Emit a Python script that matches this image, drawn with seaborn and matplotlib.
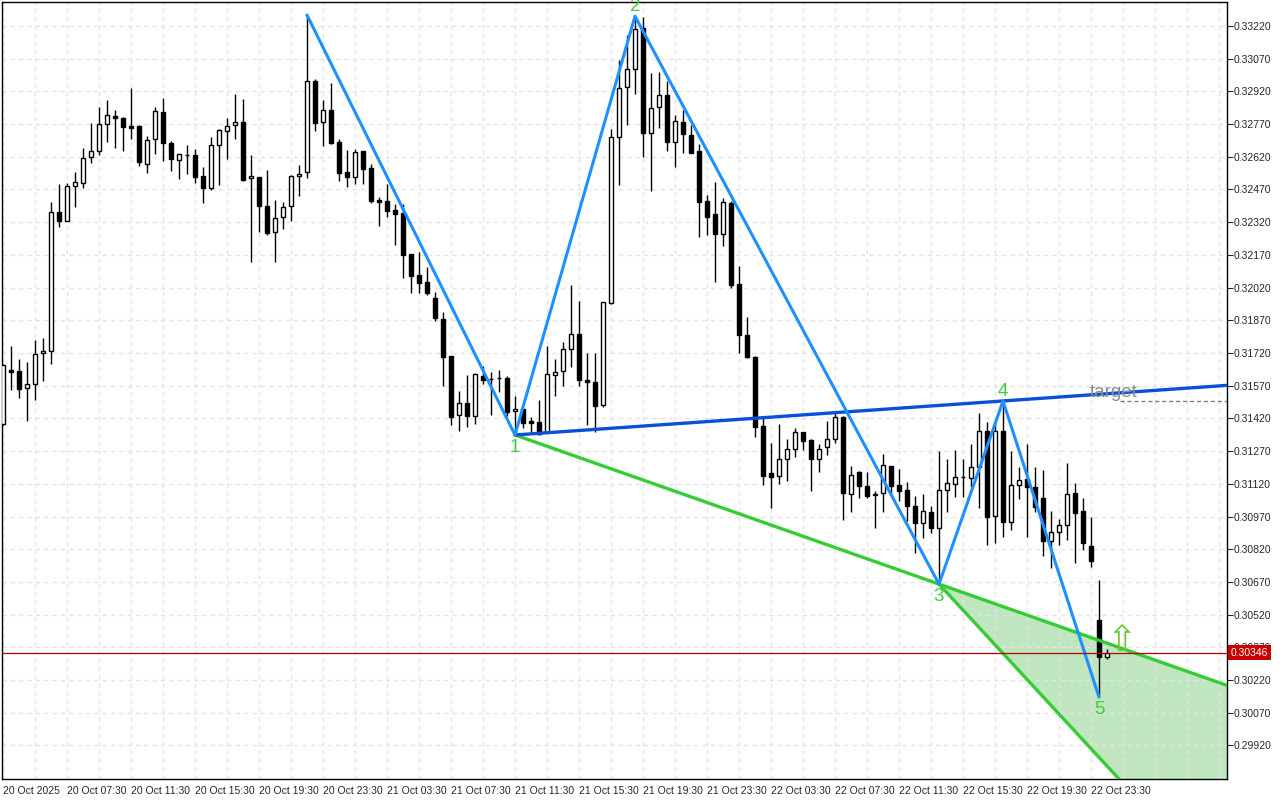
import matplotlib
matplotlib.use("Agg")
import matplotlib.pyplot as plt
import matplotlib.transforms as mtransforms
import seaborn as sns
import numpy as np

# 30-minute candles, 20 Oct 03:30 -> 23 Oct 00:30
opens = [0.31394, 0.31642, 0.31637, 0.31559, 0.31578, 0.31720, 0.31729, 0.32367, 0.32325, 0.32486,
         0.32500, 0.32619, 0.32646, 0.32770, 0.32807, 0.32798, 0.32761, 0.32761, 0.32587, 0.32701,
         0.32825, 0.32683, 0.32605, 0.32628, 0.32628, 0.32532, 0.32477, 0.32674, 0.32738, 0.32766,
         0.32779, 0.32522, 0.32527, 0.32394, 0.32275, 0.32344, 0.32394, 0.32532, 0.32550, 0.32967,
         0.32779, 0.32834, 0.32688, 0.32550, 0.32527, 0.32646, 0.32568, 0.32422, 0.32417, 0.32376,
         0.32362, 0.32174, 0.32078, 0.32045, 0.31972, 0.31876, 0.31706, 0.31435, 0.31490, 0.31431,
         0.31614, 0.31600, 0.31605, 0.31605, 0.31454, 0.31463, 0.31408, 0.31404, 0.31357, 0.31619,
         0.31637, 0.31738, 0.31807, 0.31596, 0.31587, 0.31481, 0.31949, 0.32711, 0.32940, 0.33023,
         0.33211, 0.32729, 0.32848, 0.32903, 0.32688, 0.32779, 0.32720, 0.32646, 0.32417, 0.32357,
         0.32266, 0.32408, 0.32036, 0.31802, 0.31701, 0.31385, 0.31169, 0.31156, 0.31234, 0.31279,
         0.31357, 0.31321, 0.31234, 0.31289, 0.31325, 0.31426, 0.31073, 0.31174, 0.31109, 0.31073,
         0.31078, 0.31201, 0.31114, 0.31091, 0.31018, 0.30940, 0.30990, 0.30917, 0.31091, 0.31119,
         0.31151, 0.31146, 0.31197, 0.31362, 0.30972, 0.31362, 0.30945, 0.31114, 0.31142, 0.31105,
         0.31055, 0.30857, 0.30899, 0.30931, 0.31078, 0.30995, 0.30834, 0.30495, 0.30325]
highs = [0.31670, 0.31752, 0.31692, 0.31679, 0.31779, 0.31789, 0.32412, 0.32495, 0.32500, 0.32550,
         0.32660, 0.32775, 0.32848, 0.32880, 0.32834, 0.32802, 0.32935, 0.32766, 0.32715, 0.32848,
         0.32890, 0.32692, 0.32633, 0.32674, 0.32656, 0.32573, 0.32711, 0.32747, 0.32798, 0.32908,
         0.32885, 0.32628, 0.32527, 0.32559, 0.32422, 0.32412, 0.32536, 0.32582, 0.33270, 0.32977,
         0.32880, 0.32958, 0.32701, 0.32651, 0.32656, 0.32646, 0.32587, 0.32435, 0.32495, 0.32403,
         0.32403, 0.32174, 0.32183, 0.32114, 0.32000, 0.31908, 0.31706, 0.31546, 0.31619, 0.31628,
         0.31660, 0.31633, 0.31642, 0.31614, 0.31523, 0.31463, 0.31426, 0.31504, 0.31752, 0.31692,
         0.31770, 0.32032, 0.31958, 0.31720, 0.31720, 0.31954, 0.32747, 0.33064, 0.33178, 0.33270,
         0.33261, 0.33004, 0.33009, 0.32967, 0.32812, 0.32834, 0.32766, 0.32678, 0.32444, 0.32504,
         0.32431, 0.32417, 0.32119, 0.31885, 0.31706, 0.31431, 0.31307, 0.31394, 0.31325, 0.31376,
         0.31357, 0.31325, 0.31302, 0.31408, 0.31449, 0.31431, 0.31201, 0.31179, 0.31174, 0.31087,
         0.31257, 0.31201, 0.31188, 0.31128, 0.31064, 0.31073, 0.31018, 0.31270, 0.31234, 0.31275,
         0.31234, 0.31302, 0.31445, 0.31403, 0.31403, 0.31500, 0.31270, 0.31197, 0.31302, 0.31197,
         0.31183, 0.30995, 0.30958, 0.31215, 0.31123, 0.31055, 0.30968, 0.30679, 0.30362]
lows = [0.31390, 0.31550, 0.31513, 0.31408, 0.31504, 0.31591, 0.31669, 0.32298, 0.32325, 0.32390,
        0.32477, 0.32591, 0.32628, 0.32688, 0.32660, 0.32646, 0.32701, 0.32578, 0.32545, 0.32633,
        0.32600, 0.32555, 0.32518, 0.32541, 0.32500, 0.32408, 0.32468, 0.32490, 0.32610, 0.32701,
        0.32509, 0.32137, 0.32275, 0.32261, 0.32137, 0.32289, 0.32325, 0.32440, 0.32522, 0.32738,
        0.32669, 0.32678, 0.32509, 0.32481, 0.32495, 0.32495, 0.32408, 0.32302, 0.32344, 0.32215,
        0.32064, 0.31995, 0.31995, 0.31986, 0.31867, 0.31568, 0.31390, 0.31362, 0.31381, 0.31394,
        0.31578, 0.31435, 0.31541, 0.31431, 0.31344, 0.31376, 0.31353, 0.31344, 0.31353, 0.31523,
        0.31568, 0.31656, 0.31568, 0.31390, 0.31357, 0.31472, 0.31945, 0.32490, 0.32766, 0.32908,
        0.32619, 0.32463, 0.32752, 0.32646, 0.32573, 0.32637, 0.32637, 0.32252, 0.32261, 0.32045,
        0.32211, 0.32018, 0.31720, 0.31697, 0.31335, 0.31114, 0.31009, 0.31119, 0.31133, 0.31243,
        0.31275, 0.31087, 0.31174, 0.31252, 0.31307, 0.30954, 0.30992, 0.31055, 0.31055, 0.30917,
        0.30990, 0.31068, 0.31041, 0.30949, 0.30802, 0.30871, 0.30894, 0.30660, 0.30992, 0.31059,
        0.31059, 0.31105, 0.31009, 0.30839, 0.30848, 0.30876, 0.30908, 0.31050, 0.30876, 0.30990,
        0.30789, 0.30734, 0.30839, 0.30862, 0.30757, 0.30816, 0.30738, 0.30142, 0.30316]
closes = [0.31665, 0.31633, 0.31555, 0.31578, 0.31715, 0.31729, 0.32367, 0.32325, 0.32486, 0.32504,
          0.32614, 0.32646, 0.32770, 0.32812, 0.32798, 0.32757, 0.32752, 0.32596, 0.32697, 0.32830,
          0.32683, 0.32610, 0.32633, 0.32628, 0.32527, 0.32477, 0.32674, 0.32743, 0.32761, 0.32779,
          0.32513, 0.32532, 0.32394, 0.32271, 0.32339, 0.32390, 0.32532, 0.32541, 0.32967, 0.32775,
          0.32834, 0.32683, 0.32545, 0.32527, 0.32642, 0.32564, 0.32417, 0.32412, 0.32371, 0.32357,
          0.32169, 0.32073, 0.32041, 0.31995, 0.31880, 0.31701, 0.31426, 0.31490, 0.31431, 0.31624,
          0.31596, 0.31600, 0.31605, 0.31449, 0.31463, 0.31399, 0.31399, 0.31348, 0.31624, 0.31633,
          0.31738, 0.31807, 0.31596, 0.31587, 0.31477, 0.31954, 0.32709, 0.32935, 0.33023, 0.33206,
          0.32729, 0.32843, 0.32903, 0.32688, 0.32784, 0.32724, 0.32637, 0.32412, 0.32344, 0.32266,
          0.32412, 0.32032, 0.31802, 0.31701, 0.31380, 0.31156, 0.31151, 0.31234, 0.31279, 0.31357,
          0.31316, 0.31234, 0.31279, 0.31325, 0.31426, 0.31078, 0.31160, 0.31109, 0.31064, 0.31068,
          0.31206, 0.31110, 0.31087, 0.31018, 0.30940, 0.30995, 0.30917, 0.31091, 0.31123, 0.31151,
          0.31151, 0.31197, 0.31362, 0.30968, 0.31362, 0.30945, 0.31114, 0.31137, 0.31105, 0.31013,
          0.30857, 0.30899, 0.30931, 0.31073, 0.30986, 0.30848, 0.30766, 0.30325, 0.30346]

time_labels = ["20 Oct 2025", "20 Oct 07:30", "20 Oct 11:30", "20 Oct 15:30", "20 Oct 19:30",
               "20 Oct 23:30", "21 Oct 03:30", "21 Oct 07:30", "21 Oct 11:30", "21 Oct 15:30",
               "21 Oct 19:30", "21 Oct 23:30", "22 Oct 03:30", "22 Oct 07:30", "22 Oct 11:30",
               "22 Oct 15:30", "22 Oct 19:30", "22 Oct 23:30"]
price_ticks = [0.29920, 0.30070, 0.30220, 0.30370, 0.30520, 0.30670, 0.30820, 0.30970, 0.31120,
               0.31270, 0.31420, 0.31570, 0.31720, 0.31870, 0.32020, 0.32170, 0.32320, 0.32470,
               0.32620, 0.32770, 0.32920, 0.33070, 0.33220]

# wave pattern pivots (bar index, price)
wave_bars = [38, 64, 79, 117, 125, 137]
wave_prices = [0.33270, 0.31344, 0.33265, 0.30660, 0.31500, 0.30142]
wave_names = ["", "1", "2", "3", "4", "5"]
# steep edge of the projection wedge, leaving pivot 3
edge_bar = 139.5
edge_price = 0.29766
target_price = 0.31500
last_price = 0.30346

sns.set_style("white")
plt.rcParams["font.family"] = ["Liberation Sans", "DejaVu Sans"]

fig = plt.figure(figsize=(12.8, 8), dpi=100)
ax = fig.add_axes([2 / 1280, 21 / 800, 1225 / 1280, 777 / 800])
x_max = 153
ax.set_xlim(-0.125, x_max)
ax.set_ylim(0.29766, 0.33330)

# grid
ax.set_axisbelow(True)
ax.set_xticks(range(0, 8 * len(time_labels), 8))
ax.set_xticklabels(time_labels)
ax.set_xticks(range(0, x_max, 4), minor=True)
ax.set_yticks(price_ticks)
ax.set_yticklabels([f"{p:.5f}" for p in price_ticks])
ax.yaxis.tick_right()
ax.grid(which="both", axis="x", color="#e3e3e3", ls=(0, (3, 3)), lw=1)
ax.grid(which="major", axis="y", color="#e3e3e3", ls=(0, (3, 3)), lw=1)
ax.tick_params(which="minor", length=0)
ax.tick_params(axis="x", which="major", length=4, direction="out", labelsize=7.5, pad=1)
ax.tick_params(axis="y", which="major", length=4, direction="out", labelsize=7.5, pad=1)
for lab in ax.get_xticklabels():
    lab.set_ha("left")
for sp in ax.spines.values():
    sp.set_color("black")
    sp.set_linewidth(1)

# candles
bars = np.arange(len(opens))
o = np.array(opens)
c = np.array(closes)
ax.vlines(bars, lows, highs, color="black", lw=1, zorder=2)
up = c >= o
body_h = np.maximum(np.abs(c - o), 0.00002)
ax.bar(bars, body_h, bottom=np.minimum(o, c), width=0.62,
       color=np.where(up, "white", "black"), edgecolor="black", lw=1, zorder=3)

# wedge (pivot 1 -> pivot 3 line and steep edge from pivot 3)
slope13 = (wave_prices[3] - wave_prices[1]) / (wave_bars[3] - wave_bars[1])
slope_edge = (edge_price - wave_prices[3]) / (edge_bar - wave_bars[3])
xs = np.linspace(wave_bars[3], x_max, 60)
upper_w = wave_prices[3] + slope13 * (xs - wave_bars[3])
lower_w = wave_prices[3] + slope_edge * (xs - wave_bars[3])
ax.fill_between(xs, lower_w, upper_w, color="#c0e6c0", lw=0, zorder=0.4)

green = "#35cc35"
sns.lineplot(x=[wave_bars[1], x_max], y=[wave_prices[1], wave_prices[1] + slope13 * (x_max - wave_bars[1])],
             ax=ax, color=green, lw=2.4, zorder=4)
sns.lineplot(x=[wave_bars[3], x_max], y=[wave_prices[3], wave_prices[3] + slope_edge * (x_max - wave_bars[3])],
             ax=ax, color=green, lw=2.4, zorder=4)

# line through pivots 1 and 4
slope14 = (wave_prices[4] - wave_prices[1]) / (wave_bars[4] - wave_bars[1])
sns.lineplot(x=[wave_bars[1], x_max], y=[wave_prices[1], wave_prices[1] + slope14 * (x_max - wave_bars[1])],
             ax=ax, color="#0a4fd8", lw=2.4, zorder=4)

# wave zigzag
sns.lineplot(x=wave_bars, y=wave_prices, ax=ax, color="#1e90ff", lw=2.2, zorder=5, sort=False)

for i, name in enumerate(wave_names):
    if not name:
        continue
    above = wave_prices[i] > wave_prices[i - 1]
    ax.annotate(name, (wave_bars[i], wave_prices[i]), xytext=(0, 1 if above else -3),
                textcoords="offset points", ha="center", va="bottom" if above else "top",
                color="#3ecc3e", fontsize=13.5, zorder=6)

# target
ax.hlines(target_price, 139.6, x_max, colors="#808080", linestyles=(0, (3, 2)), lw=1, zorder=5)
ax.text(135.9, target_price, "target", color="#8a8a8a", fontsize=13.5, ha="left", va="bottom", zorder=6)

# buy arrow
ax.text(139.9, 0.30399, "\u21e7", family="DejaVu Sans", color="#6cc83a", fontsize=26,
        ha="center", va="center", zorder=6)

# current price
ax.axhline(last_price, color="#b00000", lw=0.9, zorder=5)
trans = mtransforms.blended_transform_factory(ax.transAxes, ax.transData)
ax.text(1.003, last_price, f"{last_price:.5f}", transform=trans, color="white", fontsize=7.5,
        ha="left", va="center", clip_on=False, zorder=10,
        bbox=dict(boxstyle="square,pad=0.25", fc="#c80000", ec="none"))

plt.savefig("out.png", dpi=100)
plt.close()
